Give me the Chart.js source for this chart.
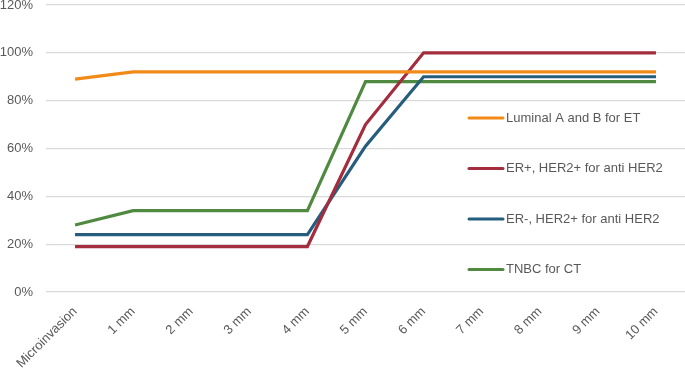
<!DOCTYPE html>
<html>
<head>
<meta charset="utf-8">
<script src="https://cdn.jsdelivr.net/npm/chart.js@4/dist/chart.umd.min.js"></script>
<style>
  html, body { margin: 0; padding: 0; background: #fff; }
</style>
</head>
<body>
<canvas id="grafico" width="685" height="371"></canvas>
<script>
const tamanhos = ['Microinvasion', '1 mm', '2 mm', '3 mm', '4 mm', '5 mm', '6 mm', '7 mm', '8 mm', '9 mm', '10 mm'];

const luminal = [89, 92, 92, 92, 92, 92, 92, 92, 92, 92, 92];
const erPos = [19, 19, 19, 19, 19, 70, 100, 100, 100, 100, 100];
const erNeg = [24, 24, 24, 24, 24, 61, 90, 90, 90, 90, 90];
const tnbc = [28, 34, 34, 34, 34, 88, 88, 88, 88, 88, 88];

const fonte = '"Liberation Sans", "DejaVu Sans", sans-serif';
const cinza = '#595959';

// legenda desenhada dentro da área do gráfico, à direita
const legendaInterna = {
    id: 'legendaInterna',
    afterDatasetsDraw(chart) {
        const c = chart.ctx;
        const area = chart.chartArea;
        const x0 = area.right - 216;
        chart.data.datasets.forEach((ds, i) => {
            const y = area.top + 113 + i * 50.5;
            c.save();
            c.strokeStyle = ds.borderColor;
            c.lineWidth = 3;
            c.lineCap = 'round';
            c.beginPath();
            c.moveTo(x0, y);
            c.lineTo(x0 + 34, y);
            c.stroke();
            c.fillStyle = cinza;
            c.font = '13px ' + fonte;
            c.textBaseline = 'middle';
            c.fillText(ds.label, x0 + 37, y);
            c.restore();
        });
    }
};

new Chart(document.getElementById('grafico'), {
    type: 'line',
    data: {
        labels: tamanhos,
        datasets: [
            { label: 'Luminal A and B for ET', data: luminal, borderColor: '#f28a18' },
            { label: 'ER+, HER2+ for anti HER2', data: erPos, borderColor: '#a32d3d' },
            { label: 'ER-, HER2+ for anti HER2', data: erNeg, borderColor: '#245d7d' },
            { label: 'TNBC for CT', data: tnbc, borderColor: '#4f8a40' }
        ].map(ds => Object.assign(ds, {
            borderWidth: 3.2,
            pointRadius: 0,
            tension: 0,
            fill: false
        }))
    },
    options: {
        responsive: false,
        animation: false,
        layout: { padding: { top: 5, right: 0, left: 0, bottom: 0 } },
        plugins: {
            legend: { display: false },
            tooltip: { enabled: false }
        },
        scales: {
            x: {
                offset: true,
                grid: { display: false },
                border: { display: false },
                ticks: {
                    color: cinza,
                    font: { family: fonte, size: 13 },
                    maxRotation: 45,
                    minRotation: 45,
                    autoSkip: false,
                    padding: 4
                },
                afterFit(scale) {
                    scale.height = 79;
                    scale.paddingLeft = 0;
                    scale.paddingRight = 0;
                }
            },
            y: {
                min: 0,
                max: 120,
                grid: { color: '#d9d9d9', lineWidth: 1.3, drawTicks: false },
                border: { display: false },
                ticks: {
                    stepSize: 20,
                    autoSkip: false,
                    color: cinza,
                    font: { family: fonte, size: 13 },
                    padding: 13,
                    callback: v => v + '%'
                },
                afterFit(scale) {
                    scale.width = 46;
                    scale.paddingTop = 0;
                    scale.paddingBottom = 0;
                }
            }
        }
    },
    plugins: [legendaInterna]
});
</script>
</body>
</html>
